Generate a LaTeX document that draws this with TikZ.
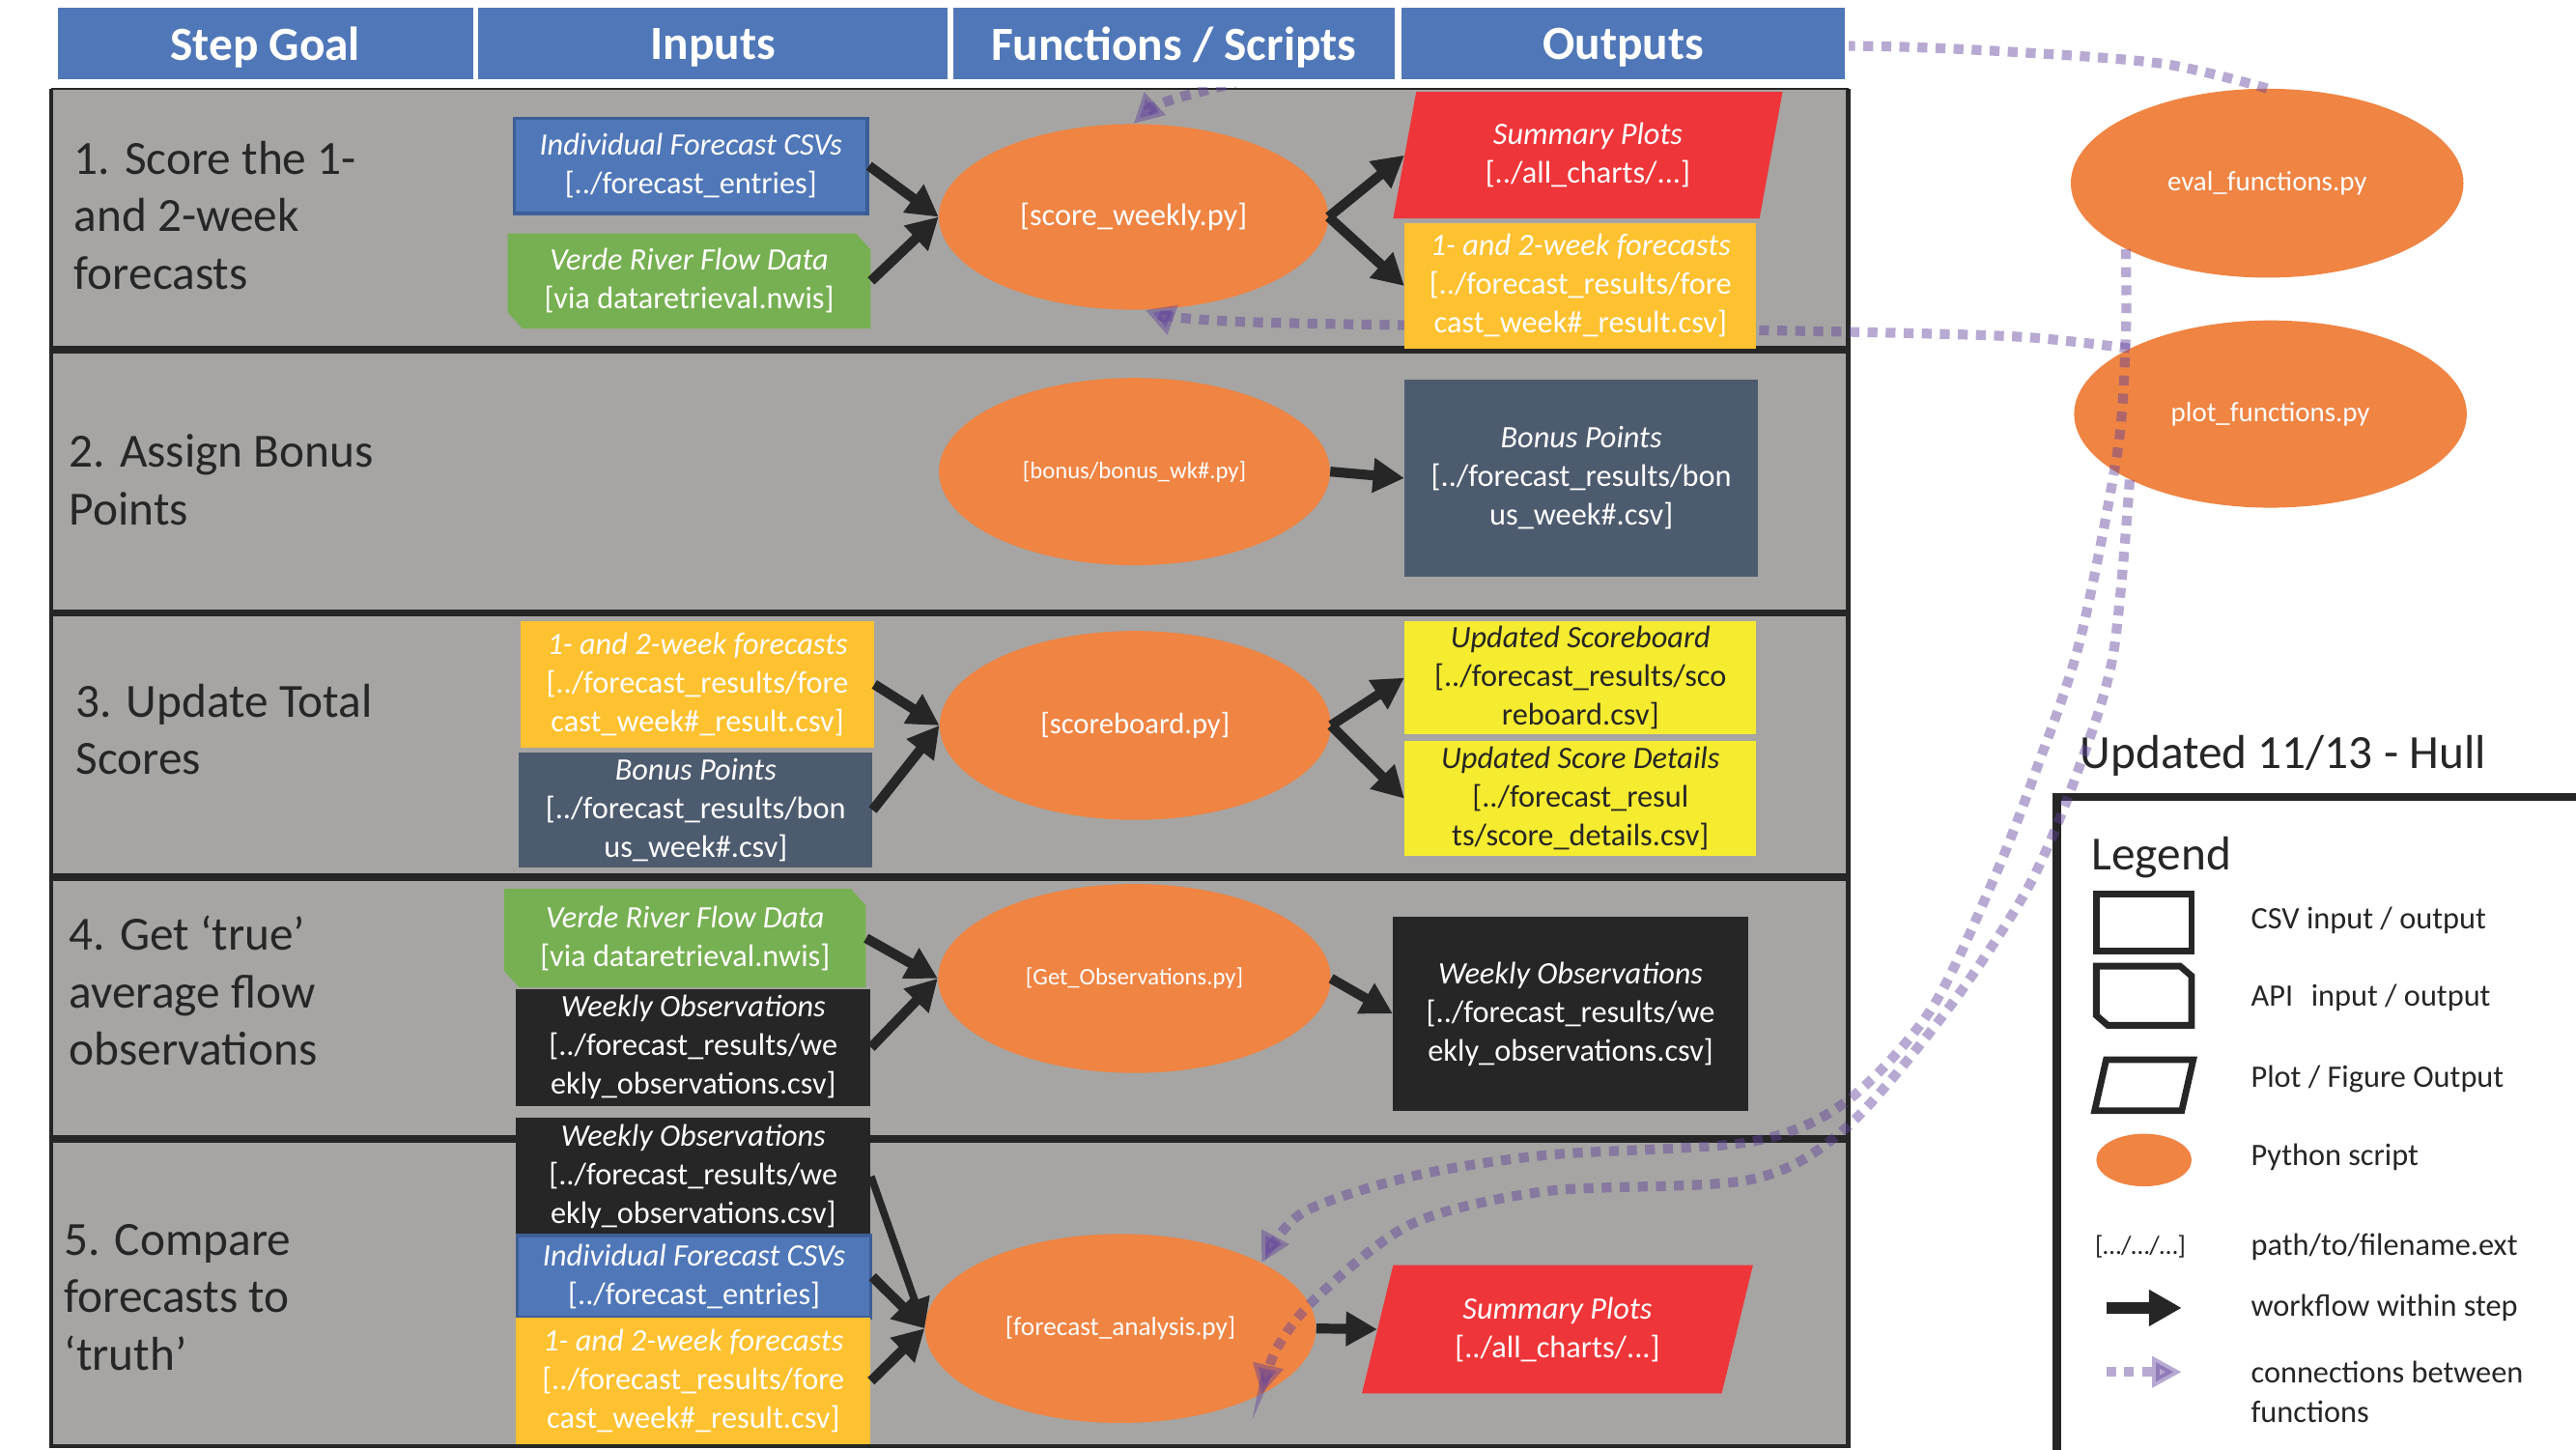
\documentclass[tikz,border=0pt]{standalone}
\usepackage{fontspec}
\setmainfont{Carlito}
\usetikzlibrary{arrows.meta,shapes.geometric}
\definecolor{hblue}{HTML}{5077B8}
\definecolor{rowgrey}{HTML}{A6A5A3}
\definecolor{dk}{HTML}{262626}
\definecolor{blueedge}{HTML}{3C5E96}
\definecolor{greenbox}{HTML}{77B052}
\definecolor{pyorange}{HTML}{EF8443}
\definecolor{redbox}{HTML}{EE3539}
\definecolor{ambox}{HTML}{FEC12F}
\definecolor{yelbox}{HTML}{F5EB2F}
\definecolor{slate}{HTML}{4D5B6F}
\definecolor{connc}{HTML}{64449C}
\tikzset{
  hdr/.style={fill=hblue, text=white, inner sep=0pt, minimum height=43pt, text depth=0pt, font=\fontsize{29}{35}\selectfont\bfseries},
  lbl/.style={anchor=west, align=left, inner sep=0pt, text=dk, font=\fontsize{29}{35}\selectfont},
  io/.style={rectangle, inner sep=0pt, align=center, text=white, font=\fontsize{19}{23.5}\selectfont},
  csvblue/.style={io, fill=hblue, draw=blueedge, line width=2pt},
  csvamber/.style={io, fill=ambox},
  csvslate/.style={io, fill=slate},
  csvblack/.style={io, fill=dk},
  csvyel/.style={io, fill=yelbox, text=dk},
  api/.style={io, path picture={\fill[greenbox] ([yshift=10pt]path picture bounding box.south west) -- ([xshift=9pt]path picture bounding box.south west) -- (path picture bounding box.south east) -- ([yshift=-10pt]path picture bounding box.north east) -- ([xshift=-9pt]path picture bounding box.north east) -- (path picture bounding box.north west) -- cycle;}},
  plotout/.style={io, path picture={\fill[redbox] (path picture bounding box.south west) -- ([xshift=-#1]path picture bounding box.south east) -- (path picture bounding box.north east) -- ([xshift=#1]path picture bounding box.north west) -- cycle;}},
  py/.style={ellipse, fill=pyorange, text=white, inner sep=0pt},
  wf/.style={draw=dk, line width=6pt, -{Triangle[length=19pt,width=20pt]}},
  wfthin/.style={draw=dk, line width=4.5pt, -{Triangle[length=18pt,width=18pt]}},
  cn/.style={draw=connc, opacity=0.46, line width=6pt, dash pattern=on 6pt off 5pt, -{Triangle[length=18pt,width=18pt]}},
  lgtext/.style={anchor=west, inner sep=0pt, text=dk, align=left, font=\fontsize{19}{24}\selectfont},
}
\begin{document}
\begin{tikzpicture}[x=1pt,y=-1pt]
\useasboundingbox (0,0) rectangle (1568,882);
\clip (0,0) rectangle (1568,882);
% table rows
\fill[rowgrey] (31,54) rectangle (1125,880);
\draw[dk, line width=1.5pt] (31,54) -- (1125,54);
\draw[dk, line width=2.5pt] (31,54) -- (31,880) -- (1125,880) -- (1125,54);
\foreach \yy in {213,373,534,693} \draw[dk, line width=4.5pt] (31,\yy) -- (1125,\yy);
% step labels
\node[lbl] (s1) at (45,131) {1. Score the 1-\\and 2-week\\forecasts};
\node[lbl] (s2) at (42,292) {2. Assign Bonus\\Points};
\node[lbl] (s3) at (46,444) {3. Update Total\\Scores};
\node[lbl] (s4) at (42,603) {4. Get ‘true’\\average flow\\observations};
\node[lbl] (s5) at (39,789.5) {5. Compare\\forecasts to\\‘truth’};
% side scripts
\node[py, minimum width=239pt, minimum height=115pt, font=\fontsize{17}{20}\selectfont] (ev) at (1380,111.5) {eval\_functions.py};
\node[py, minimum width=239pt, minimum height=114pt, font=\fontsize{17}{20}\selectfont] (pf) at (1382,252) {plot\_functions.py};
% main scripts
\node[py, minimum width=237pt, minimum height=113pt, font=\fontsize{19}{22}\selectfont] (sw) at (690,132) {[score\_weekly.py]};
\node[py, minimum width=238pt, minimum height=114pt, font=\fontsize{14.5}{17}\selectfont] (bn) at (690.5,287) {[bonus/bonus\_wk\#.py]};
\node[py, minimum width=238pt, minimum height=115pt, font=\fontsize{18}{21}\selectfont] (sb) at (691,441.5) {[scoreboard.py]};
\node[py, minimum width=239pt, minimum height=115pt, font=\fontsize{14.5}{17}\selectfont] (go) at (690.5,595.5) {[Get\_Observations.py]};
\node[py, minimum width=238pt, minimum height=115pt, font=\fontsize{16}{19}\selectfont] (fa) at (682,808.5) {[forecast\_analysis.py]};
% legend
\draw[dk, line width=5pt, fill=white] (1252,485) rectangle (1620,920);
\node[anchor=west, inner sep=0pt, text=dk, font=\fontsize{29}{35}\selectfont] (upd) at (1266,460) {Updated 11/13 - Hull};
\node[anchor=west, inner sep=0pt, text=dk, font=\fontsize{29}{35}\selectfont] (lgt) at (1273,522) {Legend};
\draw[dk, line width=4pt, fill=white] (1276,544) rectangle (1334,579);
\draw[dk, line width=4pt] (1276,588) -- (1327,588) -- (1334,594) -- (1334,624) -- (1283,624) -- (1276,618) -- cycle;
\draw[dk, line width=4pt] (1282,645) -- (1335,645) -- (1328,676) -- (1275,676) -- cycle;
\node[py, minimum width=58pt, minimum height=32pt] (lgpy) at (1305,706) {};
\node[anchor=west, inner sep=0pt, text=dk, font=\fontsize{16}{19}\selectfont] (lgpath) at (1275,759) {[…/…/…]};
\coordinate (la1) at (1282,796);
\coordinate (la2) at (1328,796);
\draw[wf, line width=7pt, -{Triangle[length=20pt,width=21pt]}] (la1) -- (la2);
\coordinate (lb1) at (1282,835);
\coordinate (lb2) at (1328,835);
\draw[cn] (lb1) -- (lb2);
\node[lgtext] (t1) at (1370,560) {CSV input / output};
\node[lgtext] (t2) at (1370,607) {API\hspace{0.35em} input / output};
\node[lgtext] (t3) at (1370,657) {Plot / Figure Output};
\node[lgtext] (t4) at (1370,704) {Python script};
\node[lgtext] (t5) at (1370,759) {path/to/filename.ext};
\node[lgtext] (t6) at (1370,796) {workflow within step};
\node[lgtext] (t7) at (1370,847) {connections between\\functions};
% connections between functions
\draw[cn] plot[smooth] coordinates {(ev.north) (1318,39) (1232,32) (1129,28) (950,30) (800,40) (742,53) (707,63) (sw.north)};
\draw[cn] plot[smooth] coordinates {(pf.155) (1230,205) (1126,202) (1000,200) (860,198) (760,196) (715,193) (sw.-83)};
\draw[cn] plot[smooth] coordinates {(ev.205) (1294,202) (1289,274) (1266,390) (1240,467) (1214,534) (1175,615) (1123,671) (1065,695) (941,703) (859,716) (793,738) (fa.25)};
\draw[cn] plot[smooth] coordinates {(pf.205) (1286,400) (1263,474) (1234,541) (1185,615) (1123,687) (1065,718) (941,725) (859,745) (801,790) (777,821) (fa.-25)};
% header band
\fill[white] (31,0) rectangle (1125,53.2);
\node[hdr, minimum width=253pt] (h1) at (161.5,26.5) {Step Goal};
\node[hdr, minimum width=286pt] (h2) at (434,26.5) {Inputs};
\node[hdr, minimum width=269pt] (h3) at (714.5,26.5) {Functions / Scripts};
\node[hdr, minimum width=270pt] (h4) at (988,26.5) {Outputs};
% row 1
\node[csvblue, minimum width=215pt, minimum height=58pt] (ifc1) at (420.5,101) {\textit{Individual Forecast CSVs}\\{}[../forecast\_entries]};
\node[api, minimum width=221pt, minimum height=58pt] (vr1) at (419.5,171) {\textit{Verde River Flow Data}\\{}[via dataretrieval.nwis]};
\node[plotout=14pt, minimum width=237pt, minimum height=77pt] (sp1) at (966.5,94.5) {\textit{Summary Plots}\\{}[../all\_charts/...]};
\node[csvamber, minimum width=214pt, minimum height=76pt] (yf1) at (962,174) {\textit{1- and 2-week forecasts}\\{}[../forecast\_results/fore\\cast\_week\#\_result.csv]};
% row 2
\node[csvslate, minimum width=215pt, minimum height=120pt] (bp2) at (962.5,291) {\textit{Bonus Points}\\{}[../forecast\_results/bon\\us\_week\#.csv]};
% row 3
\node[csvamber, minimum width=215pt, minimum height=77pt] (yf3) at (424.5,416.5) {\textit{1- and 2-week forecasts}\\{}[../forecast\_results/fore\\cast\_week\#\_result.csv]};
\node[csvslate, minimum width=215pt, minimum height=70pt] (bp3) at (423.5,493) {\textit{Bonus Points}\\{}[../forecast\_results/bon\\us\_week\#.csv]};
\node[csvyel, minimum width=214pt, minimum height=69pt] (us) at (962,412.5) {\textit{Updated Scoreboard}\\{}[../forecast\_results/sco\\reboard.csv]};
\node[csvyel, minimum width=214pt, minimum height=70pt] (usd) at (962,486) {\textit{Updated Score Details}\\{}[../forecast\_resul\\ts/score\_details.csv]};
% row 4
\node[api, minimum width=220pt, minimum height=60pt] (vr4) at (417,571) {\textit{Verde River Flow Data}\\{}[via dataretrieval.nwis]};
\node[csvblack, minimum width=216pt, minimum height=71pt] (wo4) at (422,637.5) {\textit{Weekly Observations}\\{}[../forecast\_results/we\\ekly\_observations.csv]};
\node[csvblack, minimum width=216pt, minimum height=118pt] (wo4o) at (956,617) {\textit{Weekly Observations}\\{}[../forecast\_results/we\\ekly\_observations.csv]};
% row 5
\node[csvblack, minimum width=216pt, minimum height=72pt] (wo5) at (422,716) {\textit{Weekly Observations}\\{}[../forecast\_results/we\\ekly\_observations.csv]};
\node[csvblue, minimum width=215pt, minimum height=50pt] (ifc5) at (422.5,777) {\textit{Individual Forecast CSVs}\\{}[../forecast\_entries]};
\node[csvamber, minimum width=216pt, minimum height=77pt] (yf5) at (422,840.5) {\textit{1- and 2-week forecasts}\\{}[../forecast\_results/fore\\cast\_week\#\_result.csv]};
\node[plotout=19pt, minimum width=238pt, minimum height=78pt] (sp5) at (948,809) {\textit{Summary Plots}\\{}[../all\_charts/...]};
% workflow arrows
\draw[wf] (ifc1.east) -- (sw.west);
\draw[wf] (vr1.east) -- (sw.west);
\draw[wf] (sw.east) -- ([xshift=7pt]sp1.west);
\draw[wf] (sw.east) -- (yf1.west);
\draw[wf] (bn.east) -- (bp2.west);
\draw[wf] (yf3.east) -- (sb.west);
\draw[wf] (bp3.east) -- (sb.west);
\draw[wf] (sb.east) -- (us.west);
\draw[wf] (sb.east) -- (usd.west);
\draw[wf] (vr4.east) -- (go.west);
\draw[wf] (wo4.east) -- (go.west);
\draw[wf] (go.east) -- (wo4o.west);
\draw[wfthin] (wo5.east) -- (fa.west);
\draw[wf] (ifc5.east) -- (fa.west);
\draw[wf] (yf5.east) -- (fa.west);
\draw[wf] (fa.east) -- ([xshift=9.5pt]sp5.west);
\end{tikzpicture}
\end{document}
